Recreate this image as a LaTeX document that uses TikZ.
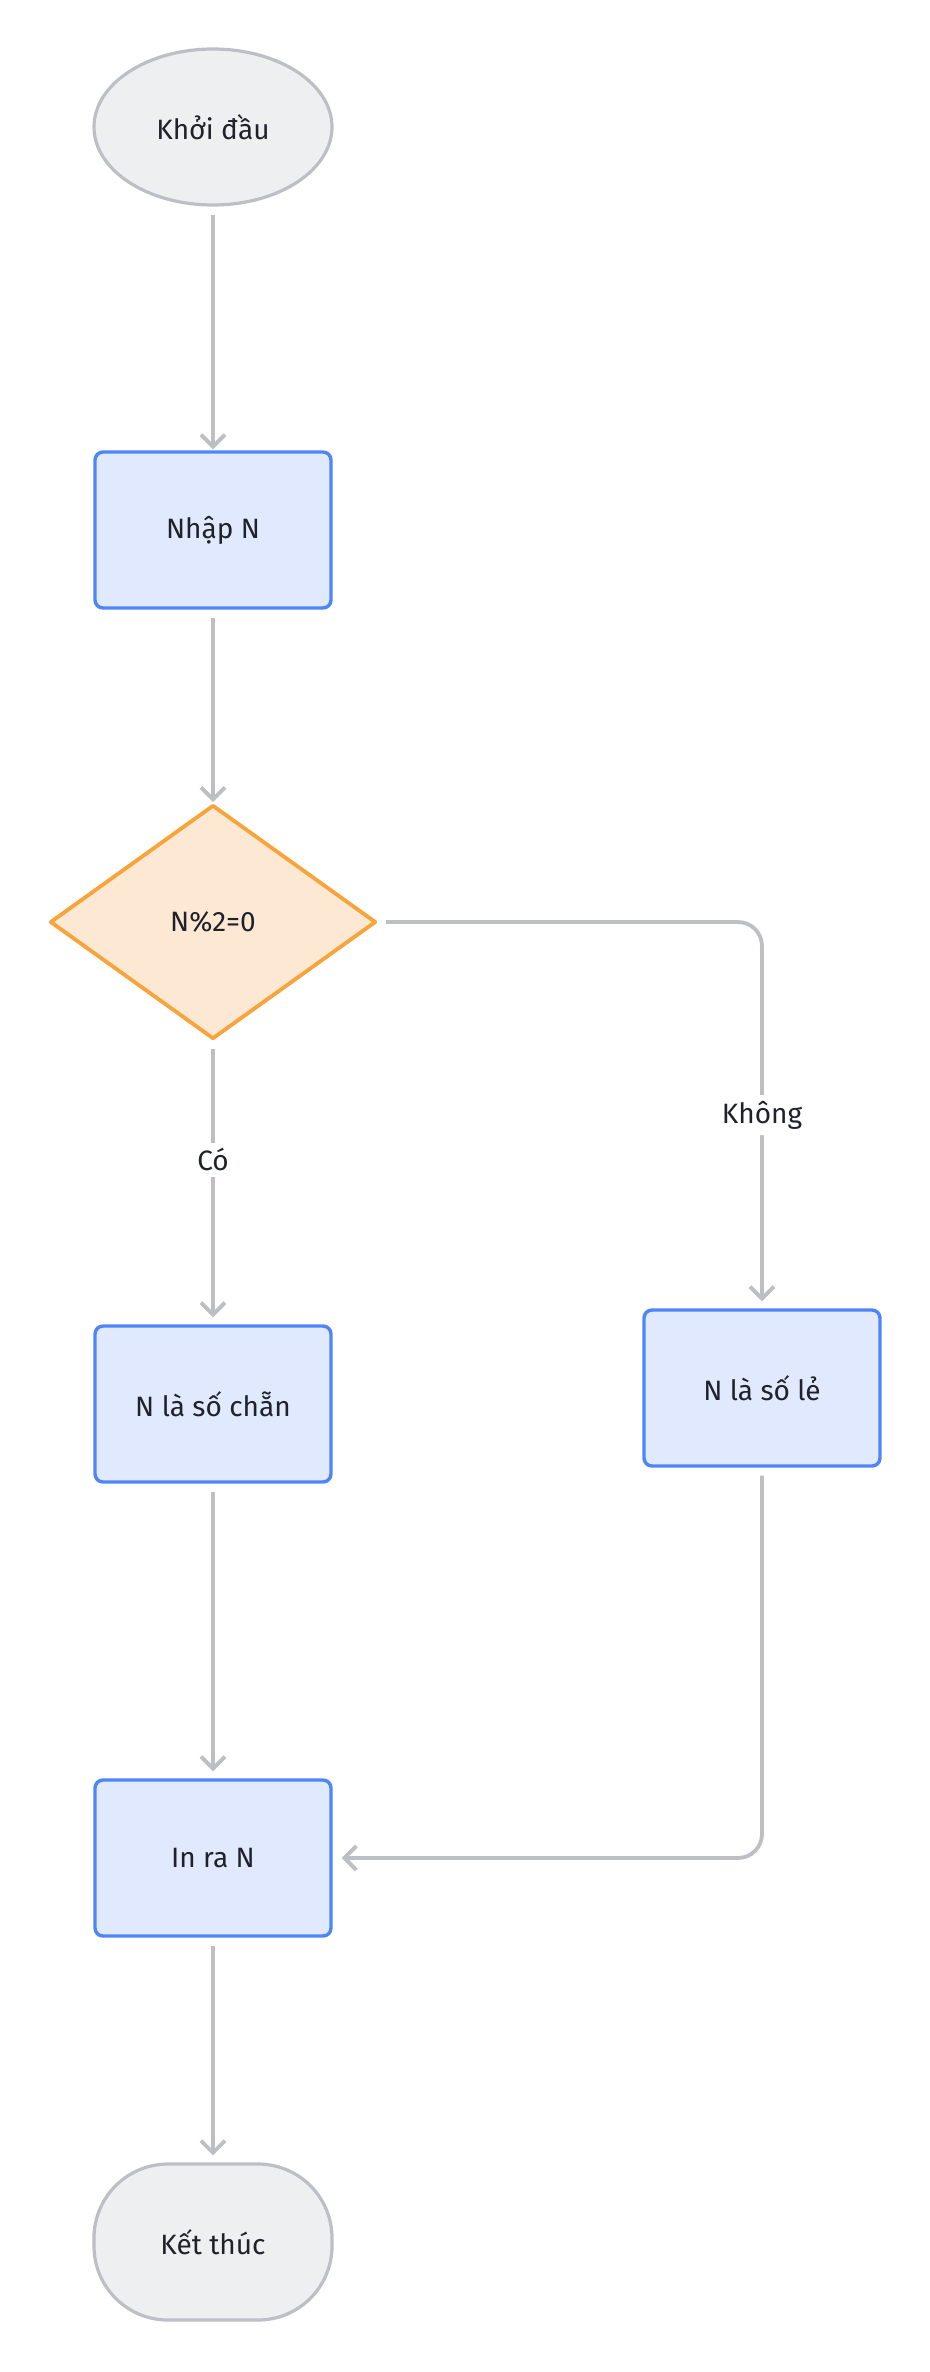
\documentclass[tikz,border=0pt]{standalone}
\usepackage{fontspec}
\setmainfont{Fira Sans}
\usepackage{tikz}
\usetikzlibrary{arrows.meta}
\usetikzlibrary{shapes.geometric}
\usetikzlibrary{positioning}

\definecolor{edgegray}{HTML}{BDBFC4}
\definecolor{termfill}{HTML}{EEEFF1}
\definecolor{boxblue}{HTML}{4F86F7}
\definecolor{boxfill}{HTML}{E0E9FD}
\definecolor{condorange}{HTML}{F8A43A}
\definecolor{condfill}{HTML}{FDE9D3}
\definecolor{inktext}{HTML}{1F2329}

\tikzset{
  every node/.style = {font=\fontsize{14}{17}\selectfont, text=inktext},
  terminal/.style = {draw=edgegray, fill=termfill, line width=1.6pt,
                     minimum width=119pt, minimum height=78pt, inner sep=0pt},
  process/.style = {rectangle, rounded corners=4pt, draw=boxblue, fill=boxfill,
                    line width=1.7pt, minimum width=118pt, minimum height=78pt, inner sep=0pt},
  decision/.style = {diamond, draw=condorange, fill=condfill, line width=1.9pt, line join=round,
                     minimum width=163pt, minimum height=117pt, inner sep=0pt},
  flow/.style = {draw=edgegray, line width=1.9pt, -{Straight Barb[length=6pt,width=12pt]},
                 shorten >=3.5pt, shorten <=4pt},
  edgelabel/.style = {fill=white, inner sep=3pt},
}

\begin{document}
\begin{tikzpicture}[x=0.5pt, y=-0.5pt]
    \fill[white] (0,0) rectangle (930,2372);

    \node[terminal, ellipse] (start) at (213,127) {Khởi đầu};
    \node[process] (input) at (213,530) {Nhập N};
    \node[decision] (check) at (213,922) {N\%2=0};
    \node[process] (even) at (213,1404) {N là số chẵn};
    \node[process] (odd) at (762,1388) {N là số lẻ};
    \node[process] (output) at (213,1858) {In ra N};
    \node[terminal, rectangle, rounded corners=37pt] (stop) at (213,2242) {Kết thúc};

    \draw[flow, shorten >=0.5pt] (start) -- (input);
    \draw[flow, shorten >=0.5pt] (input) -- (check);
    \draw[flow] (check) -- node[edgelabel, pos=0.42]{Có} (even);
    \draw[flow, rounded corners=12pt] (check.east) -- (odd.north |- check.east) -- node[edgelabel]{Không} (odd);
    \draw[flow] (even) -- (output);
    \draw[flow, rounded corners=12pt, shorten >=4.5pt] (odd.south) -- (odd.south |- output.east) -- (output.east);
    \draw[flow] (output) -- (stop);
\end{tikzpicture}
\end{document}
